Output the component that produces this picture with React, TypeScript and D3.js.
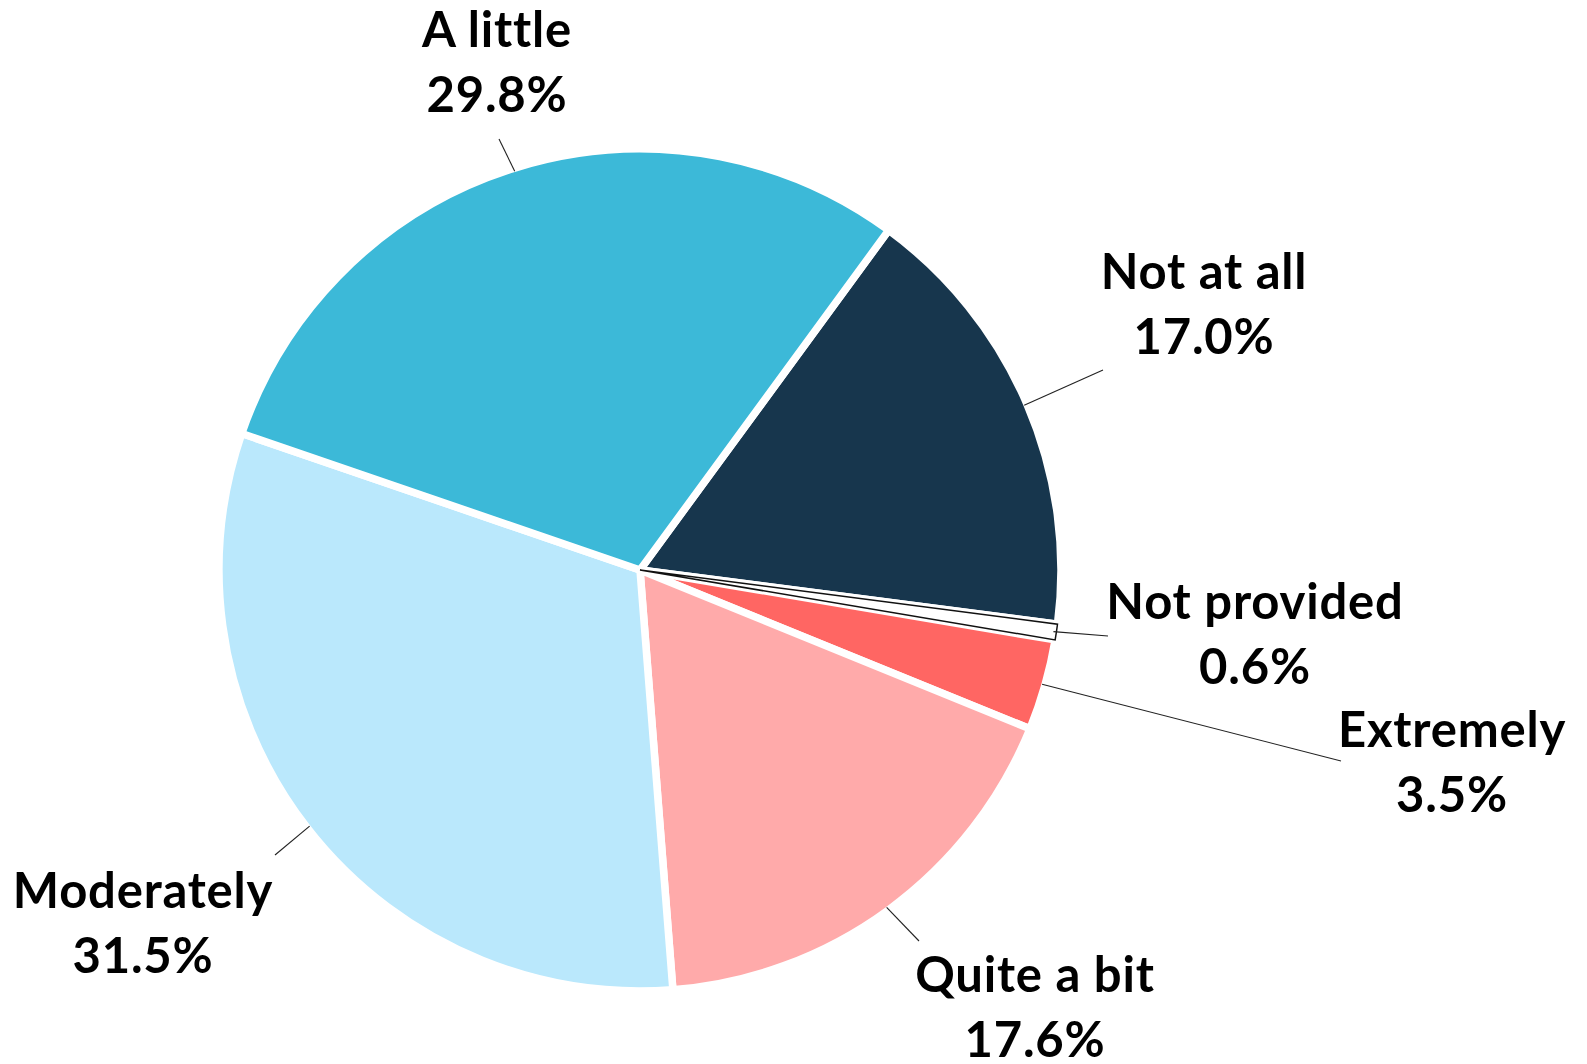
import React from "react";
import * as d3 from "d3";

const categories = ["Not at all", "Not provided", "Extremely", "Quite a bit", "Moderately", "A little"];
const values = [17.0, 0.6, 3.5, 17.6, 31.5, 29.8];
const colors = ["#17364D", "#FFFFFF", "#FF6663", "#FFAAAA", "#BAE8FC", "#3CB9D8"];
// label anchor (center x, first baseline y) and leader end points — layout only
const labelPos: [number, number][] = [
  [1204, 289], [1255, 619], [1452, 747], [1035, 992], [143, 908], [497, 47],
];
const leaderEnd: [number, number][] = [
  [1103, 370], [1108, 636], [1341, 761], [919, 941], [275, 855], [499, 139],
];

const W = 1587, H = 1064;
const cx = 640, cy = 570, R = 421;
const startDeg = 36.2;

export default function App() {
  const data = categories.map((c, i) => ({ c, v: values[i], i }));
  const pie = d3
    .pie<any>()
    .sort(null)
    .value((d: any) => d.v)
    .startAngle((startDeg * Math.PI) / 180)
    .endAngle((startDeg * Math.PI) / 180 + 2 * Math.PI);
  const arcs = pie(data);
  const arc = d3.arc<any>().innerRadius(0).outerRadius(R);

  return (
    <svg width={W} height={H} style={{ position: "absolute", left: 0, top: 0, display: "block" }}
      fontFamily="Lato, 'Open Sans', sans-serif">
      <rect width={W} height={H} fill="#fff" />
      <g transform={`translate(${cx},${cy})`}>
        {arcs.map((a, i) => (
          <path key={i} d={arc(a) || ""} fill={colors[i]} stroke="#fff" strokeWidth={7.5} strokeLinejoin="miter" />
        ))}
        {arcs.map((a, i) =>
          a.data.c === "Not provided" ? (
            <path key={"np" + i} d={arc(a) || ""} fill="#fff" stroke="#111" strokeWidth={1.5} />
          ) : null
        )}
      </g>
      {arcs.map((a, i) => {
        const mid = (a.startAngle + a.endAngle) / 2;
        const sx = cx + (R - 3) * Math.sin(mid);
        const sy = cy - (R - 3) * Math.cos(mid);
        const [ex, ey] = leaderEnd[i];
        return <line key={"l" + i} x1={sx} y1={sy} x2={ex} y2={ey} stroke="#222" strokeWidth={1.1} />;
      })}
      {arcs.map((a, i) => {
        const [lx, ly] = labelPos[i];
        return (
          <text key={"t" + i} x={lx} y={ly} textAnchor="middle" fontWeight={700} fontSize={49}
            letterSpacing={0.8} fill="#000">
            <tspan x={lx} y={ly}>{a.data.c}</tspan>
            <tspan x={lx} y={ly + 65}>{a.data.v.toFixed(1) + "%"}</tspan>
          </text>
        );
      })}
    </svg>
  );
}
